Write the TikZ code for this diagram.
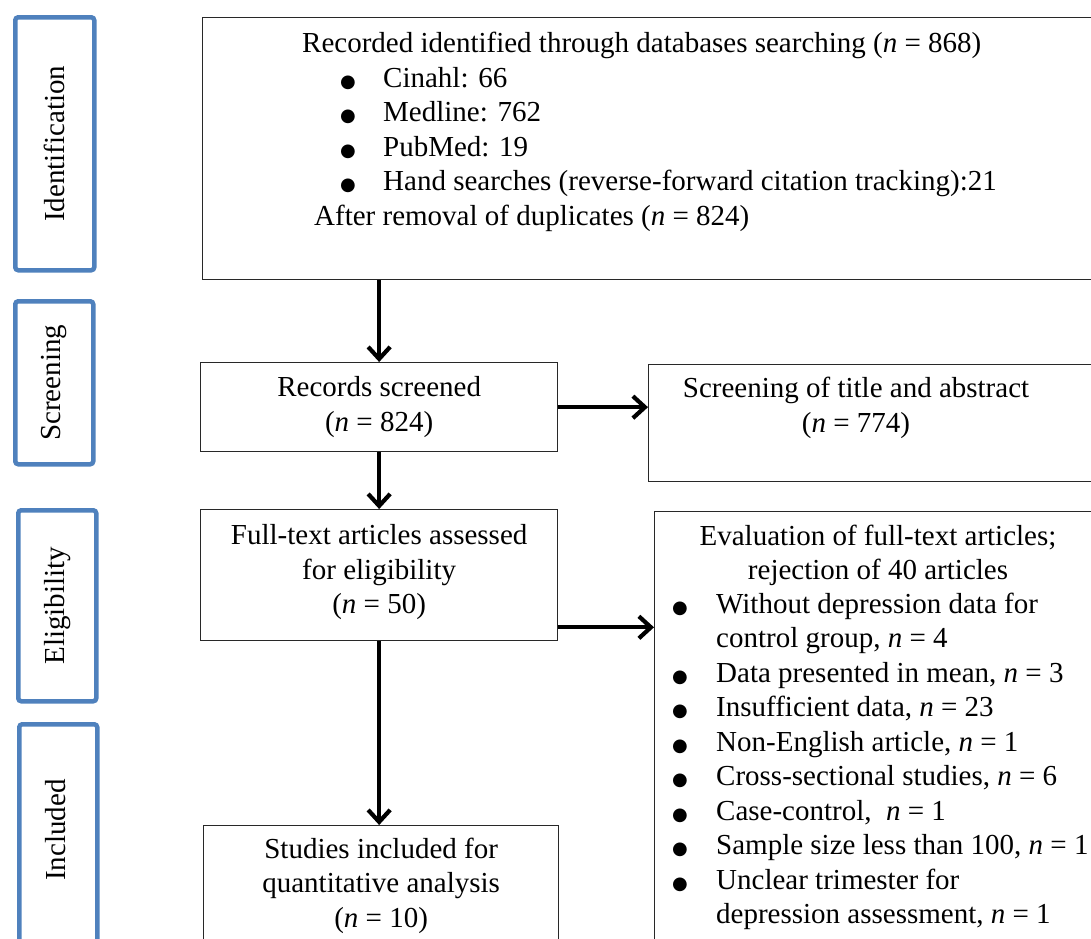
\documentclass[tikz,border=0pt]{standalone}
\usepackage{fontspec}
\setmainfont{Liberation Serif}
\newfontfamily\dotfont{DejaVu Sans}
\usetikzlibrary{positioning,arrows.meta}
\definecolor{colorstage}{RGB}{79,129,189}
\definecolor{colorbox}  {RGB}{40,40,40}
\newcommand{\itemdot}[1]{\makebox[#1][l]{\hspace*{-2pt}{\dotfont\fontsize{18}{18}\selectfont ●}}}

\begin{document}
\begin{tikzpicture}[
    x=1pt, y=-1pt,
    font={\fontsize{29}{34.5}\selectfont},
    stage/.style={draw=colorstage,line width=4.5pt,rounded corners=3pt,anchor=north west},
    stagetext/.style={rotate=90,inner sep=0pt},
    box/.style={draw=colorbox,line width=1.3pt,anchor=north west,inner sep=0pt},
    txt/.style={inner sep=0pt,align=center,anchor=north},
    list/.style={inner sep=0pt,align=left,anchor=north west},
    arrow/.style={line width=4.2pt,-{Straight Barb[length=12pt,width=22pt]}},
]
    \useasboundingbox (0,0) rectangle (1091,938);
    \clip (0,0) rectangle (1091,938);

    % stages
    \node[stage,minimum width=79pt,minimum height=253pt] (stageid)  at (13,15)  {};
    \node[stage,minimum width=78pt,minimum height=163pt] (stagescr) at (13,299) {};
    \node[stage,minimum width=78pt,minimum height=191pt] (stageel)  at (16,508) {};
    \node[stage,minimum width=78pt,minimum height=230pt] (stageinc) at (17,722) {};
    \node[stagetext] (lblid)  at (stageid.center)  {Identification};
    \node[stagetext] (lblscr) at (stagescr.center) {Screening};
    \node[stagetext] (lblel)  at (stageel.center)  {Eligibility};
    \node[stagetext] (lblinc) at (56,830)          {Included};

    % boxes
    \node[box,minimum width=908pt,minimum height=262pt] (ident)      at (202,17)  {};
    \node[box,minimum width=357pt,minimum height=89pt]  (screened)   at (200,362) {};
    \node[box,minimum width=462pt,minimum height=117pt] (titleabs)   at (648,364) {};
    \node[box,minimum width=357pt,minimum height=131pt] (fulltext)   at (200,509) {};
    \node[box,minimum width=355pt,minimum height=135pt] (studies)    at (203,825) {};
    \node[box,minimum width=456pt,minimum height=449pt] (evaluation) at (654,511) {};

    % texts
    \node[list] (identtext) at (302,28.5) {\strut Recorded identified through databases searching (\textit{n} = 868)\\
    \hspace*{40pt}\itemdot{41pt}Cinahl: 66\\
    \hspace*{40pt}\itemdot{41pt}Medline: 762\\
    \hspace*{40pt}\itemdot{41pt}PubMed: 19\\
    \hspace*{40pt}\itemdot{41pt}Hand searches (reverse-forward citation tracking):21\\
    \hspace*{12pt}After removal of duplicates (\textit{n} = 824)};
    \node[txt] (screenedtext) at (screened.north |- 0,372.5) {\strut Records screened\\
    (\textit{n} = 824)};
    \node[txt] (titletext) at (856,373.5) {\strut Screening of title and abstract\\
    (\textit{n} = 774)};
    \node[txt] (fulltexttext) at (fulltext.north |- 0,520.5) {\strut Full-text articles assessed\\
    for eligibility\\
    (\textit{n} = 50)};
    \node[txt] (studiestext) at (studies.north |- 0,834) {\strut Studies included for\\
    quantitative analysis\\
    (\textit{n} = 10)};
    \node[txt] (evalhead) at (878,521) {\strut Evaluation of full-text articles;\\
    rejection of 40 articles};
    \node[list] (evallist) at (674,589) {\strut\itemdot{42pt}Without depression data for\\
    \hspace*{42pt}control group, \textit{n} = 4\\
    \itemdot{42pt}Data presented in mean, \textit{n} = 3\\
    \itemdot{42pt}Insufficient data, \textit{n} = 23\\
    \itemdot{42pt}Non-English article, \textit{n} = 1\\
    \itemdot{42pt}Cross-sectional studies, \textit{n} = 6\\
    \itemdot{42pt}Case-control, \ \textit{n} = 1\\
    \itemdot{42pt}Sample size less than 100, \textit{n} = 1\\
    \itemdot{42pt}Unclear trimester for\\
    \hspace*{42pt}depression assessment, \textit{n} = 1};

    % arrows
    \coordinate (fte) at ([yshift=14pt]fulltext.south east);
    \draw[arrow] (screened.north |- ident.south) -- (screened.north);
    \draw[arrow] (screened.east) -- (screened.east -| titleabs.west);
    \draw[arrow] (screened.south) -- (fulltext.north);
    \draw[arrow] (fulltext.south) -- (fulltext.south |- studies.north);
    \draw[arrow] (fte) -- (fte -| evaluation.west);

\end{tikzpicture}
\end{document}
